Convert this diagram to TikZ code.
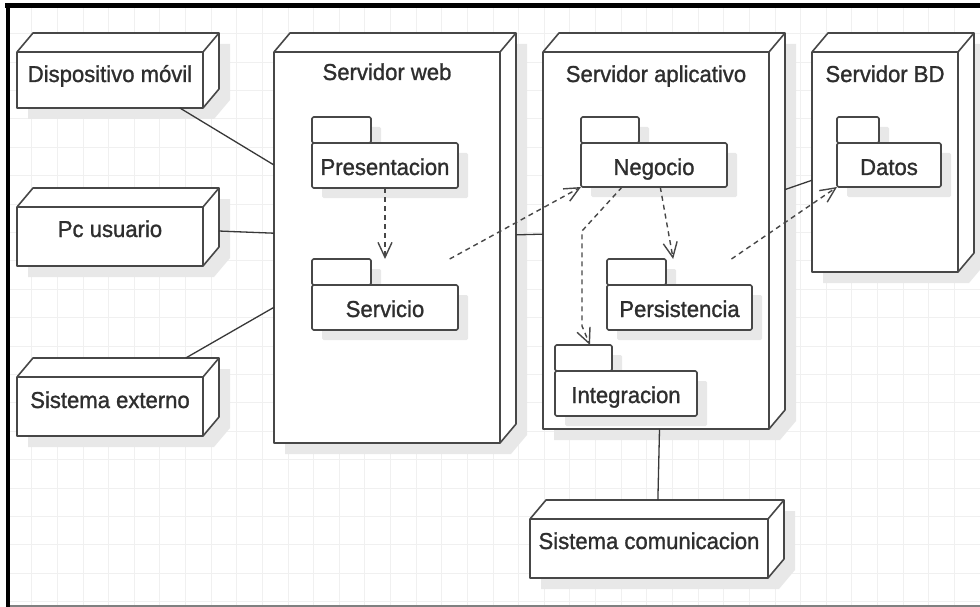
\documentclass[tikz,border=0pt]{standalone}
\usepackage{fontspec}
\setmainfont{Liberation Sans}[FakeStretch=0.96, FakeBold=1.2]
\usetikzlibrary{fit,calc,arrows.meta}

\tikzset{
  gridline/.style={draw=black!6, line width=0.9pt},
  shadowc/.style={fill=black!9},
  nodeline/.style={draw=black!72, line width=1.6pt, line join=round},
  bbox/.style={rectangle, inner sep=0pt, outer sep=0pt, draw=none},
  lbl/.style={inner sep=0pt, text=black!82, font=\fontsize{23}{27}\selectfont},
  conn/.style={draw=black!78, line width=1.3pt},
  dep/.style={draw=black!72, line width=1.4pt, dash pattern=on 5pt off 4pt,
    -{Straight Barb[length=15pt,width=14pt]}},
}

% 3D device box: name, front x1, front y1, front x2, front y2, label, baseline offset
\newcommand\devbox[7]{%
  \fill[shadowc, shift={(11,11)}] (#2,#3) -- (#2+16,#3-19) -- (#4+16,#3-19)
     -- (#4+16,#5-19) -- (#4,#5) -- (#2,#5) -- cycle;
  \draw[nodeline, fill=white] (#2,#3) -- (#2+16,#3-19) -- (#4+16,#3-19)
     -- (#4+16,#5-19) -- (#4,#5) -- (#2,#5) -- cycle;
  \draw[nodeline] (#2,#3) -- (#4,#3) -- (#4,#5) (#4,#3) -- (#4+16,#3-19);
  \node[bbox, fit={(#2,#3-19) (#4+16,#5)}] (#1) {};
  \node[lbl, anchor=base] (#1-l) at ({(#2+#4)/2},#3+#7) {#6};
}

% package: name, x1, tab top, tab right, x2, bottom, label
\newcommand\pkg[7]{%
  \fill[shadowc, shift={(10,10)}, rounded corners=1.5pt] (#2,#3) rectangle (#4,#3+26)
     (#2,#3+26) rectangle (#5,#6);
  \draw[nodeline, fill=white, rounded corners=1.5pt] (#2,#3) rectangle (#4,#3+26);
  \draw[nodeline, fill=white, rounded corners=1.5pt] (#2,#3+26) rectangle (#5,#6);
  \node[bbox, fit={(#2,#3) (#5,#6)}] (#1) {};
  \node[lbl, anchor=base] (#1-l) at ({(#2+#5)/2},#3+58) {#7};
}

\begin{document}
\begin{tikzpicture}[x=1pt, y=-1pt]
\useasboundingbox (0,0) rectangle (980,607);
\fill[white] (0,0) rectangle (980,607);

% background grid
\foreach \i in {0,...,38}
  \draw[gridline] ({6.07+25.63*\i},4) -- ({6.07+25.63*\i},607);
\foreach \j in {0,...,21}
  \draw[gridline] (6,{5.2+28.4*\j}) -- (980,{5.2+28.4*\j});

% frame
\fill[black] (5,3.5) rectangle (980,8.5);
\fill[black] (5.5,3.5) rectangle (10,607);
\draw[black!50, line width=1.2pt] (10,606) -- (980,606);

% servers
\devbox{sw}{274}{52}{500}{443}{Servidor web}{28}
\devbox{sa}{543}{52}{769}{429}{Servidor aplicativo}{30}
\devbox{bd}{812}{52}{958}{272}{Servidor BD}{30}

% clients and external systems
\devbox{dm}{17}{52}{203}{108}{Dispositivo móvil}{30}
\devbox{pc}{17}{207}{203}{266}{Pc usuario}{30}
\devbox{se}{17}{377}{203}{436}{Sistema externo}{31}
\devbox{sc}{530}{519}{768}{578}{Sistema comunicacion}{30}

% packages
\pkg{pre}{312}{117}{371}{458}{188}{Presentacion}
\pkg{srv}{312}{259}{371}{458}{330}{Servicio}
\pkg{neg}{581}{117}{639}{727}{187}{Negocio}
\pkg{per}{607}{259}{666}{752}{330}{Persistencia}
\pkg{int}{555}{345}{612}{697}{416}{Integracion}
\pkg{dat}{837}{117}{879}{941}{187}{Datos}

% communication links
\draw[conn] (dm) -- (sw);
\draw[conn] (pc) -- (sw);
\draw[conn] (se) -- (sw);
\draw[conn] (sw) -- (sa);
\draw[conn] (sa) -- (bd);
\draw[conn] (sa) -- (sc);

% dependencies
\coordinate (w1) at (582,231);
\coordinate (w2) at (582,326);
\draw[dep] (pre) -- (srv);
\draw[dep] (srv) -- (neg.south west);
\draw[dep] (neg) -- (per);
\draw[dep] (per) -- (dat.south west);
\draw[dep] (neg) -- (w1) -- (w2) -- ($(int.north west)+(35,0)$);
\end{tikzpicture}
\end{document}
